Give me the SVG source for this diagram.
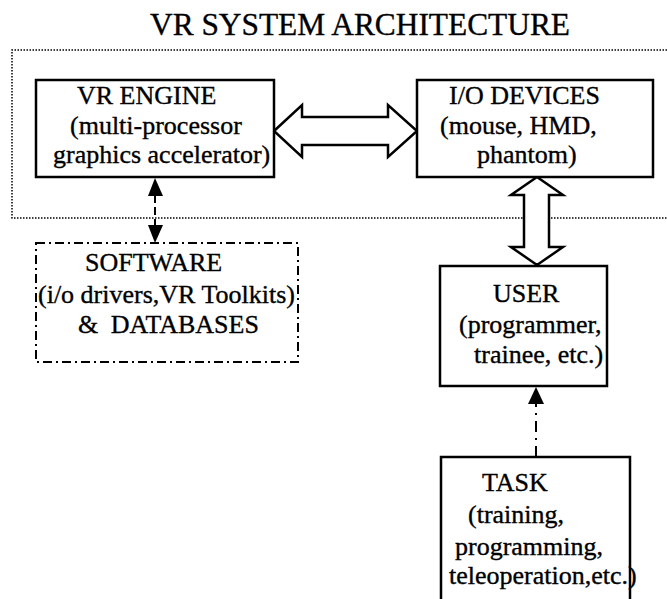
<svg xmlns="http://www.w3.org/2000/svg" width="667" height="599" viewBox="0 0 667 599">
<style>
  text { font-family: "Liberation Serif", "Times New Roman", serif; font-size: 26px; fill: #000; stroke: #000; stroke-width: 0.35; }
  .title { font-size: 31px; }
  .box { fill: #fff; stroke: #000; stroke-width: 2.5; }
  .dashdot { fill: none; stroke: #000; stroke-width: 2; stroke-dasharray: 9 4 2 4; }
  .dotted { fill: none; stroke: #000; stroke-width: 1.5; stroke-dasharray: 1.5 1.5; }
  .fat { fill: #fff; stroke: #000; stroke-width: 2.5; stroke-linejoin: miter; }
  .dash { fill: none; stroke: #000; stroke-width: 2; stroke-dasharray: 8 4; }
  .dd { fill: none; stroke: #000; stroke-width: 2; stroke-dasharray: 11 6 2 6; }
  .head { fill: #000; stroke: none; }
</style>
<rect width="667" height="599" fill="#fff"/>
<text class="title" x="150" y="35" textLength="420" lengthAdjust="spacingAndGlyphs">VR SYSTEM ARCHITECTURE</text>

<path class="dotted" d="M667,50 H12 V218 H667"/>

<g id="connectors">
  <polygon class="fat" points="274,131 302,105 302,117 388,117 388,105 417,131 388,157 388,145 302,145 302,157"/>
  <polygon class="fat" points="537,177 563,195 549,195 549,247 563,247 537,265 511,247 524,247 524,195 511,195"/>
  <line class="dash" x1="155" y1="195" x2="155" y2="226"/>
  <polygon class="head" points="155,178 148,196 163,196"/>
  <polygon class="head" points="155,243 148,225 163,225"/>
  <line class="dd" x1="536" y1="457" x2="536" y2="402"/>
  <polygon class="head" points="536,387 528,404 544,404"/>
</g>

<g id="vr-engine">
  <rect class="box" x="36" y="80" width="238" height="97"/>
  <text x="77" y="104">VR ENGINE</text>
  <text x="70" y="134">(multi-processor</text>
  <text x="53" y="163">graphics accelerator)</text>
</g>

<g id="io-devices">
  <rect class="box" x="417" y="80" width="236" height="97"/>
  <text x="449" y="104">I/O DEVICES</text>
  <text x="440" y="134">(mouse, HMD,</text>
  <text x="477" y="163">phantom)</text>
</g>

<g id="software">
  <rect class="dashdot" x="36" y="243" width="262" height="119"/>
  <text x="85" y="271">SOFTWARE</text>
  <text x="38" y="303">(i/o drivers,VR Toolkits)</text>
  <text x="78" y="333">&amp; <tspan dx="6">DATABASES</tspan></text>
</g>

<g id="user">
  <rect class="box" x="440" y="266" width="167" height="120"/>
  <text x="493" y="302">USER</text>
  <text x="459" y="333">(programmer,</text>
  <text x="474" y="363">trainee, etc.)</text>
</g>

<g id="task">
  <rect class="box" x="441" y="457" width="189" height="160"/>
  <text x="482" y="491">TASK</text>
  <text x="468" y="523">(training,</text>
  <text x="455" y="555">programming,</text>
  <text x="449" y="584">teleoperation,etc.)</text>
</g>
</svg>
